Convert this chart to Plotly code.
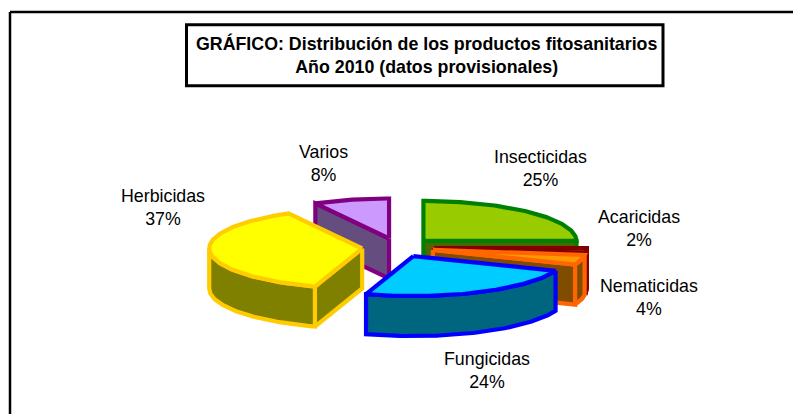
import math
import plotly.graph_objects as go

categories = ["Insecticidas", "Acaricidas", "Nematicidas", "Fungicidas", "Herbicidas", "Varios"]
values = [25, 2, 4, 24, 37, 8]
top_colors = ["#99CC00", "#993300", "#FF9900", "#00CCFF", "#FFFF00", "#CC99FF"]
line_colors = ["#008000", "#800000", "#FF6600", "#0000FF", "#FFCC00", "#800080"]
wall_colors = ["#4D6600", "#4D1A00", "#804D00", "#006680", "#808000", "#664D80"]
label_pos = [(540, 168), (639, 228), (649, 297), (487, 370), (163, 207), (323, 163)]
draw_order = [5, 0, 1, 2, 4, 3]
title_lines = ["GRÁFICO: Distribución de los productos fitosanitarios",
               "Año 2010 (datos provisionales)"]

CX, CY, RX, RY, DEPTH, EXPLODE = 398, 247.6, 153, 40, 40, 0.235
LW = 4.2
PAGE_MARGIN = 8  # the page body has an 8 px margin; axis ranges keep window pixel units

total = sum(values)
bounds = [0]
for v in values:
    bounds.append(bounds[-1] + v / total * 360)


def arc(ax, ay, a0, a1, dy=0):
    n = max(2, int(abs(a1 - a0)) + 2)
    angs = [math.radians(a0 + (a1 - a0) * i / (n - 1)) for i in range(n)]
    return [ax + RX * math.sin(t) for t in angs], [ay - RY * math.cos(t) + dy for t in angs]


fig = go.Figure()


def face(xs, ys, fill, line):
    fig.add_trace(go.Scatter(x=xs + xs[:1], y=ys + ys[:1], mode="lines", fill="toself",
                             fillcolor=fill, line=dict(color=line, width=LW, shape="linear"),
                             hoverinfo="skip", showlegend=False))


for i in draw_order:
    a0, a1 = bounds[i], bounds[i + 1]
    mid = math.radians((a0 + a1) / 2)
    ax = CX + EXPLODE * RX * math.sin(mid)
    ay = CY - EXPLODE * RY * math.cos(mid)
    for ang, sgn in ((a0, -1), (a1, 1)):
        if sgn * math.sin(math.radians(ang)) > 1e-6:
            ex = ax + RX * math.sin(math.radians(ang))
            ey = ay - RY * math.cos(math.radians(ang))
            face([ax, ex, ex, ax], [ay, ey, ey + DEPTH, ay + DEPTH], wall_colors[i], line_colors[i])
    lo, hi = max(a0, 90), min(a1, 270)
    if hi > lo:
        xt, yt = arc(ax, ay, lo, hi)
        xb, yb = arc(ax, ay, lo, hi, DEPTH)
        face(xt + xb[::-1], yt + yb[::-1], wall_colors[i], line_colors[i])
    xt, yt = arc(ax, ay, a0, a1)
    face([ax] + xt, [ay] + yt, top_colors[i], line_colors[i])

annotations = []
for name, v, (lx, ly) in zip(categories, values, label_pos):
    annotations.append(dict(x=lx, y=ly, xref="x", yref="y", showarrow=False,
                            text=f"{name}<br>{v}%", align="center",
                            font=dict(family="Liberation Sans", size=17.8, color="#000000")))
annotations.append(dict(x=426, y=55, xref="x", yref="y", showarrow=False,
                        text="<b>" + "<br>".join(title_lines) + "</b>", align="center",
                        font=dict(family="Liberation Sans", size=17.8, color="#000000")))

shapes = [
    dict(type="line", xref="x", yref="y", x0=10, y0=12, x1=801, y1=12, line=dict(color="#000000", width=2.5)),
    dict(type="line", xref="x", yref="y", x0=10, y0=12, x1=10, y1=414, line=dict(color="#000000", width=2.5)),
    dict(type="rect", xref="x", yref="y", x0=186.5, y0=24.7, x1=663, y1=85.7, line=dict(color="#000000", width=3),
         fillcolor="#FFFFFF", layer="below"),
]

fig.update_layout(
    width=801 - PAGE_MARGIN, height=414 - PAGE_MARGIN, margin=dict(l=0, r=0, t=0, b=0), autosize=False,
    paper_bgcolor="#FFFFFF", plot_bgcolor="#FFFFFF", showlegend=False,
    xaxis=dict(range=[PAGE_MARGIN, 801], visible=False, fixedrange=True),
    yaxis=dict(range=[414, PAGE_MARGIN], visible=False, fixedrange=True),
    annotations=annotations, shapes=shapes,
)
fig.write_html("out.html", config={"displayModeBar": False})
